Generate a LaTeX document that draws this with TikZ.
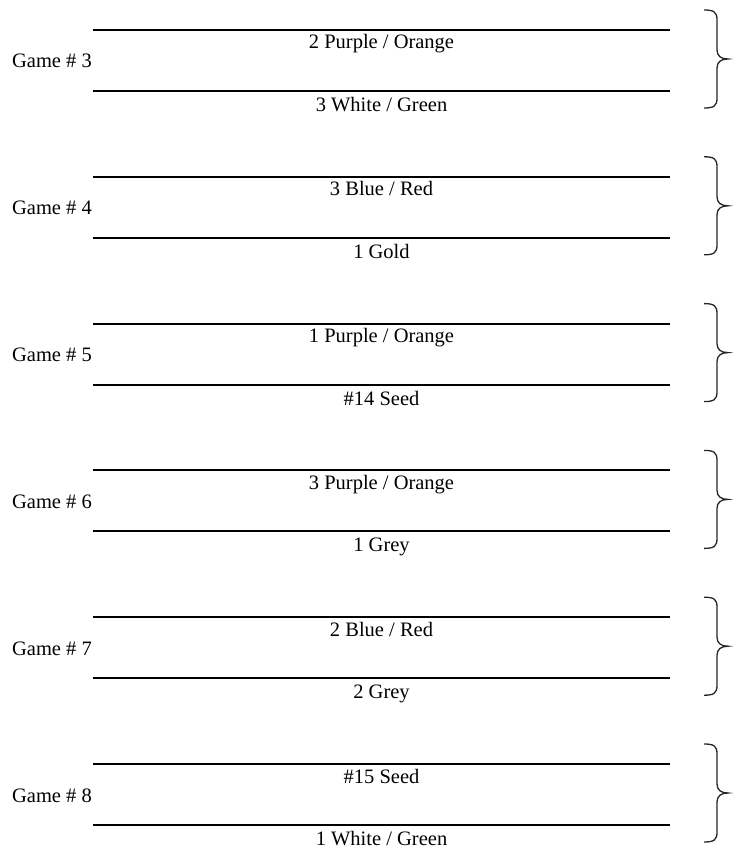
\documentclass[tikz,border=0pt]{standalone}
\usepackage{fontspec}
\setmainfont{Liberation Serif}
\begin{document}
\begin{tikzpicture}[x=1pt,y=-1pt,
  rule/.style={line width=2pt,black},
  bracepath/.style={line width=1.3pt,black!85},
  lbl/.style={inner sep=0pt,font=\fontsize{20.5}{24}\selectfont},
]
\useasboundingbox (0,0) rectangle (734,856);
\foreach \i/\game/\up/\down in {0/3/{2 Purple / Orange}/{3 White / Green},
  1/4/{3 Blue / Red}/{1 Gold},
  2/5/{1 Purple / Orange}/{\#14 Seed},
  3/6/{3 Purple / Orange}/{1 Grey},
  4/7/{2 Blue / Red}/{2 Grey},
  5/8/{\#15 Seed}/{1 White / Green}}{
  \pgfmathsetmacro{\t}{30+146.8*\i}
  \pgfmathsetmacro{\b}{\t+61}
  \coordinate (tl\game) at (93,\t);
  \coordinate (tr\game) at (670,\t);
  \coordinate (bl\game) at (93,\b);
  \coordinate (br\game) at (670,\b);
  \draw[rule] (tl\game) -- (tr\game);
  \draw[rule] (bl\game) -- (br\game);
  \node[lbl,anchor=base] (up\game) at (381.5,\t+19) {\up};
  \node[lbl,anchor=base] (down\game) at (381.5,\b+20.5) {\down};
  \node[lbl,anchor=base east] (g\game) at (92,\t+38) {Game \# \game};
  \draw[bracepath] (704,\t-20) .. controls (714,\t-20) and (717,\t-18) .. (717,\t-10)
    -- (717,\t+20) .. controls (717,\t+26) and (721,\t+29) .. (728,\t+29)
    .. controls (721,\t+29) and (717,\t+32) .. (717,\t+38)
    -- (717,\t+68) .. controls (717,\t+76) and (714,\t+78) .. (704,\t+78);
}
\end{tikzpicture}
\end{document}
